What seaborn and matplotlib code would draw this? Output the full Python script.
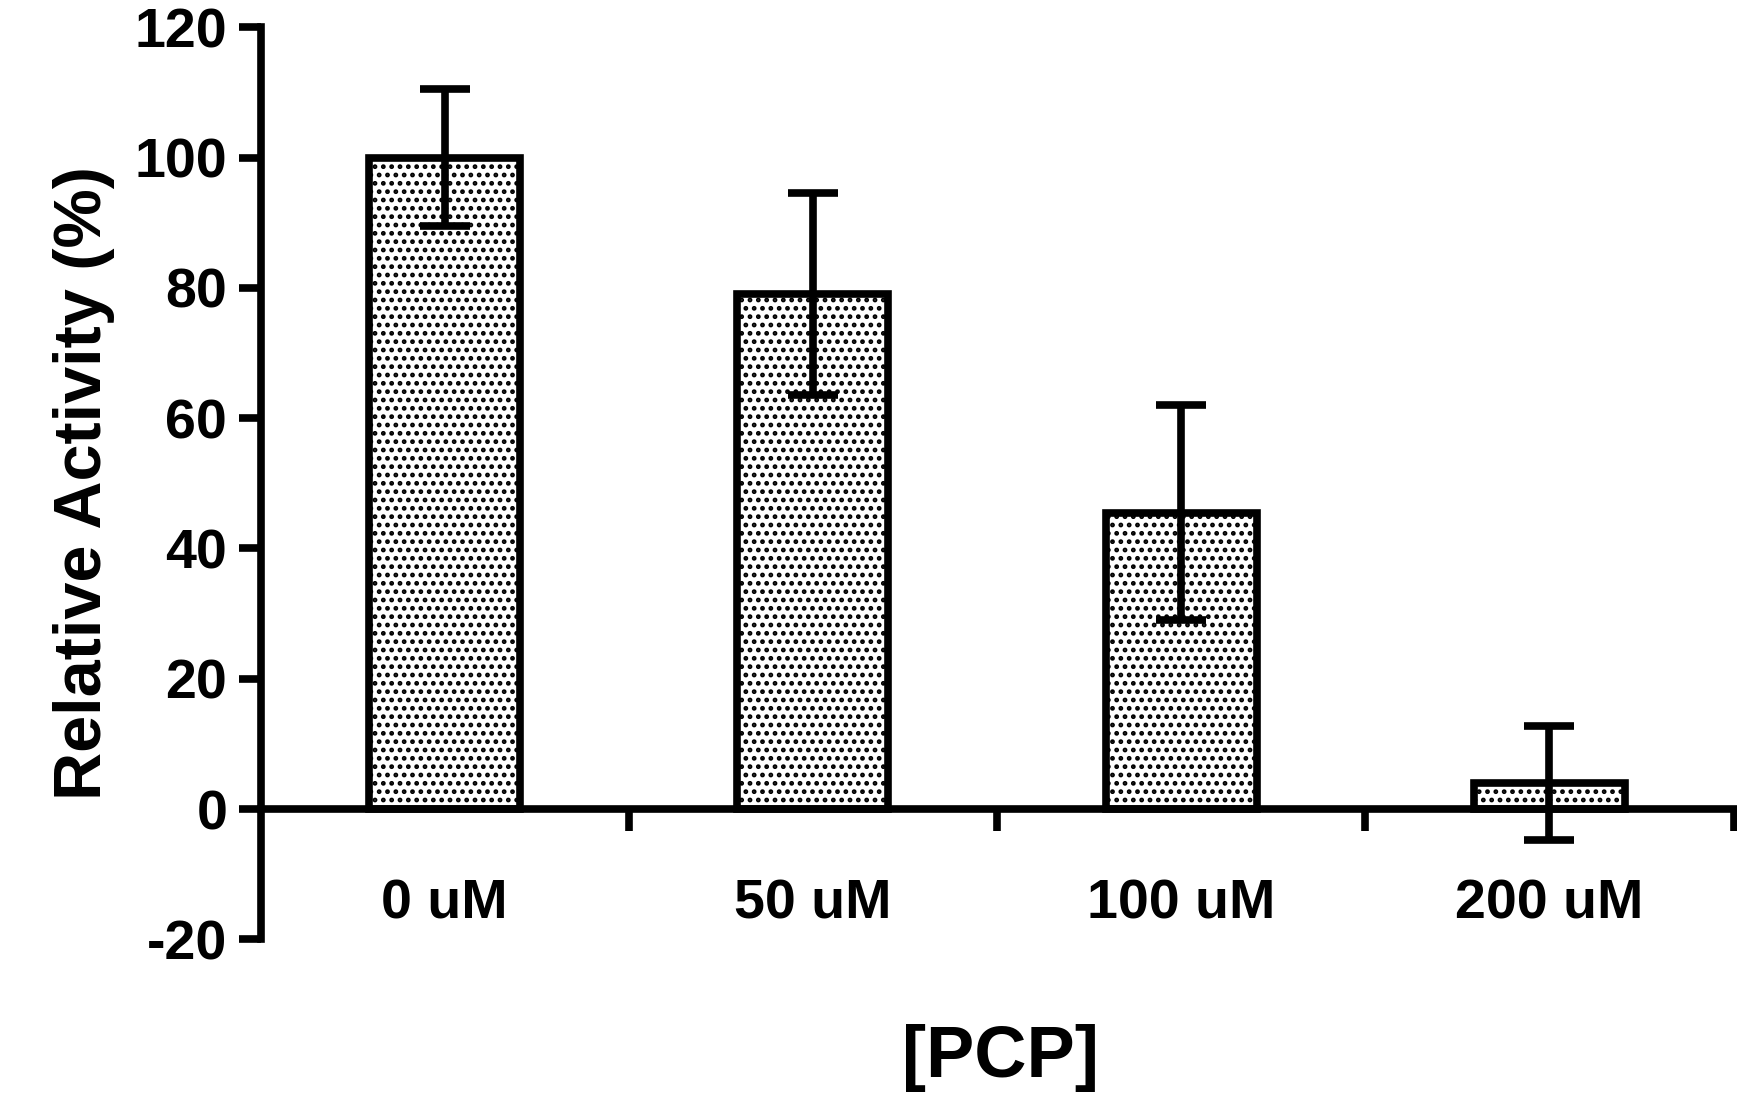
import matplotlib
matplotlib.use("Agg")
import matplotlib.pyplot as plt
import seaborn as sns
import pandas as pd
import numpy as np

categories = ["0 uM", "50 uM", "100 uM", "200 uM"]
values = [100, 79, 45.5, 4]
errors = [10.5, 15.5, 16.5, 8.7]

plt.rcParams["font.family"] = "Liberation Sans"
plt.rcParams["font.weight"] = "bold"
plt.rcParams["hatch.linewidth"] = 2.2
plt.rcParams["axes.unicode_minus"] = False

fig = plt.figure(figsize=(17.37, 10.96), dpi=100)
ax = fig.add_axes([0.150, 0.143, 0.848, 0.832])
df = pd.DataFrame({"c": categories, "v": values})
sns.barplot(data=df, x="c", y="v", ax=ax, color="white", edgecolor="black",
            linewidth=5.5, width=0.41, errorbar=None, hatch="..")
ax.errorbar(np.arange(len(values)), values, yerr=errors, fmt="none",
            ecolor="black", elinewidth=5.5, capsize=18, capthick=5.5)

ax.set_ylim(-20, 120)
ax.set_xlim(-0.5, 3.5)
ax.set_yticks(range(-20, 121, 20))
ax.spines["top"].set_visible(False)
ax.spines["right"].set_visible(False)
ax.spines["left"].set_linewidth(5.5)
ax.spines["bottom"].set_position(("data", 0))
ax.spines["bottom"].set_linewidth(5.5)
ax.tick_params(axis="y", width=5.5, length=16, labelsize=40, pad=8)
ax.set_xticks(range(4))
ax.set_xticklabels(categories)
ax.tick_params(axis="x", which="major", length=0, labelsize=40, pad=50)
ax.set_xticks([0.5, 1.5, 2.5, 3.5], minor=True)
ax.tick_params(axis="x", which="minor", width=5.5, length=16, direction="out")
for t in ax.get_xticklabels() + ax.get_yticklabels():
    t.set_fontweight("bold")
ax.set_xlabel("")
ax.set_ylabel("Relative Activity (%)", fontsize=48, fontweight="bold", labelpad=14)
fig.text(0.576, 0.035, "[PCP]", ha="center", va="center", fontsize=52, fontweight="bold")
fig.savefig("out.png", dpi=100)
